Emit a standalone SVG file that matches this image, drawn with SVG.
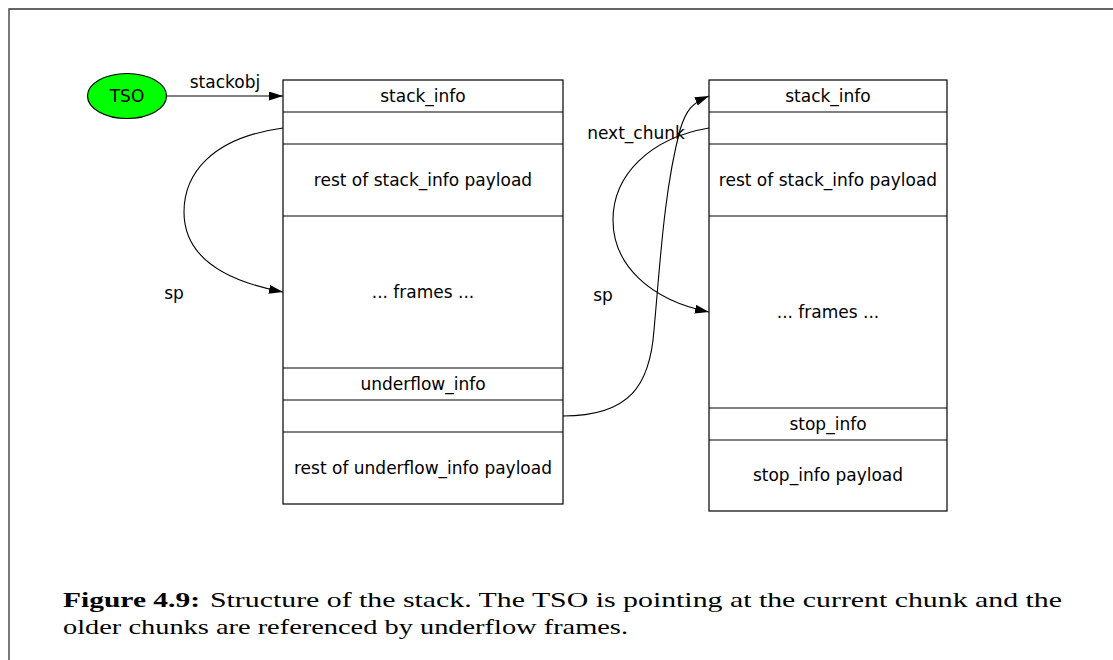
<svg xmlns="http://www.w3.org/2000/svg" width="1113" height="660" viewBox="0 0 1113 660">
<style>
.box{fill:none;stroke:#000;stroke-width:1.2}
.sep{stroke:#000;stroke-width:1.2}
.t{font-family:"DejaVu Sans",sans-serif;font-size:17px;fill:#000;text-anchor:middle}
.e{fill:none;stroke:#000;stroke-width:1.1}
.cap{font-family:"Liberation Serif",serif;font-size:22px;fill:#000}
</style>
<defs>
<marker id="ah" markerUnits="userSpaceOnUse" markerWidth="15" markerHeight="10" refX="14" refY="4.5" orient="auto">
<path d="M0,0 L14,4.5 L0,9 z" fill="#000"/>
</marker>
</defs>
<rect width="1113" height="660" fill="#fff"/>
<path d="M9,660 L9,9 L1113,9" fill="none" stroke="#333" stroke-width="1.3"/>

<g id="tso">
<ellipse cx="127" cy="96" rx="39.5" ry="22.5" fill="#00ff00" stroke="#000" stroke-width="1.2"/>
<text class="t" x="127" y="102">TSO</text>
</g>

<g id="chunk1">
<rect class="box" x="283" y="80" width="280" height="424"/>
<line class="sep" x1="283" y1="112" x2="563" y2="112"/>
<line class="sep" x1="283" y1="144" x2="563" y2="144"/>
<line class="sep" x1="283" y1="216" x2="563" y2="216"/>
<line class="sep" x1="283" y1="368" x2="563" y2="368"/>
<line class="sep" x1="283" y1="400" x2="563" y2="400"/>
<line class="sep" x1="283" y1="432" x2="563" y2="432"/>
<text class="t" x="423" y="102">stack_info</text>
<text class="t" x="423" y="186">rest of stack_info payload</text>
<text class="t" x="423" y="298">... frames ...</text>
<text class="t" x="423" y="390">underflow_info</text>
<text class="t" x="423" y="474">rest of underflow_info payload</text>
</g>

<g id="chunk2">
<rect class="box" x="709" y="80" width="238" height="431"/>
<line class="sep" x1="709" y1="112" x2="947" y2="112"/>
<line class="sep" x1="709" y1="144" x2="947" y2="144"/>
<line class="sep" x1="709" y1="216" x2="947" y2="216"/>
<line class="sep" x1="709" y1="408" x2="947" y2="408"/>
<line class="sep" x1="709" y1="440" x2="947" y2="440"/>
<text class="t" x="828" y="102">stack_info</text>
<text class="t" x="828" y="186">rest of stack_info payload</text>
<text class="t" x="828" y="318">... frames ...</text>
<text class="t" x="828" y="430">stop_info</text>
<text class="t" x="828" y="481">stop_info payload</text>
</g>

<g id="connectors">
<path class="e" d="M166,96 L283,96" marker-end="url(#ah)"/>
<text class="t" x="225" y="88">stackobj</text>
<path class="e" d="M283,128 C 210,138 184,175 184,212 C 184,255 220,280 283,292" marker-end="url(#ah)"/>
<text class="t" x="174" y="299">sp</text>
<path class="e" d="M709,128 C 650,138 613,175 613,220 C 613,265 650,300 709,312" marker-end="url(#ah)"/>
<text class="t" x="603" y="301">sp</text>
<path class="e" d="M563,416 C 630,416 650,385 654,330 C 660,265 664,190 680,130 C 686,110 692,103 709,96" marker-end="url(#ah)"/>
<text class="t" x="636" y="139">next_chunk</text>
</g>

<g id="caption">
<text class="cap" x="63" y="607" font-weight="bold" textLength="137" lengthAdjust="spacingAndGlyphs">Figure 4.9:</text>
<text class="cap" x="210" y="607" textLength="852" lengthAdjust="spacingAndGlyphs">Structure of the stack. The TSO is pointing at the current chunk and the</text>
<text class="cap" x="63" y="634" textLength="565" lengthAdjust="spacingAndGlyphs">older chunks are referenced by underflow frames.</text>
</g>
</svg>
